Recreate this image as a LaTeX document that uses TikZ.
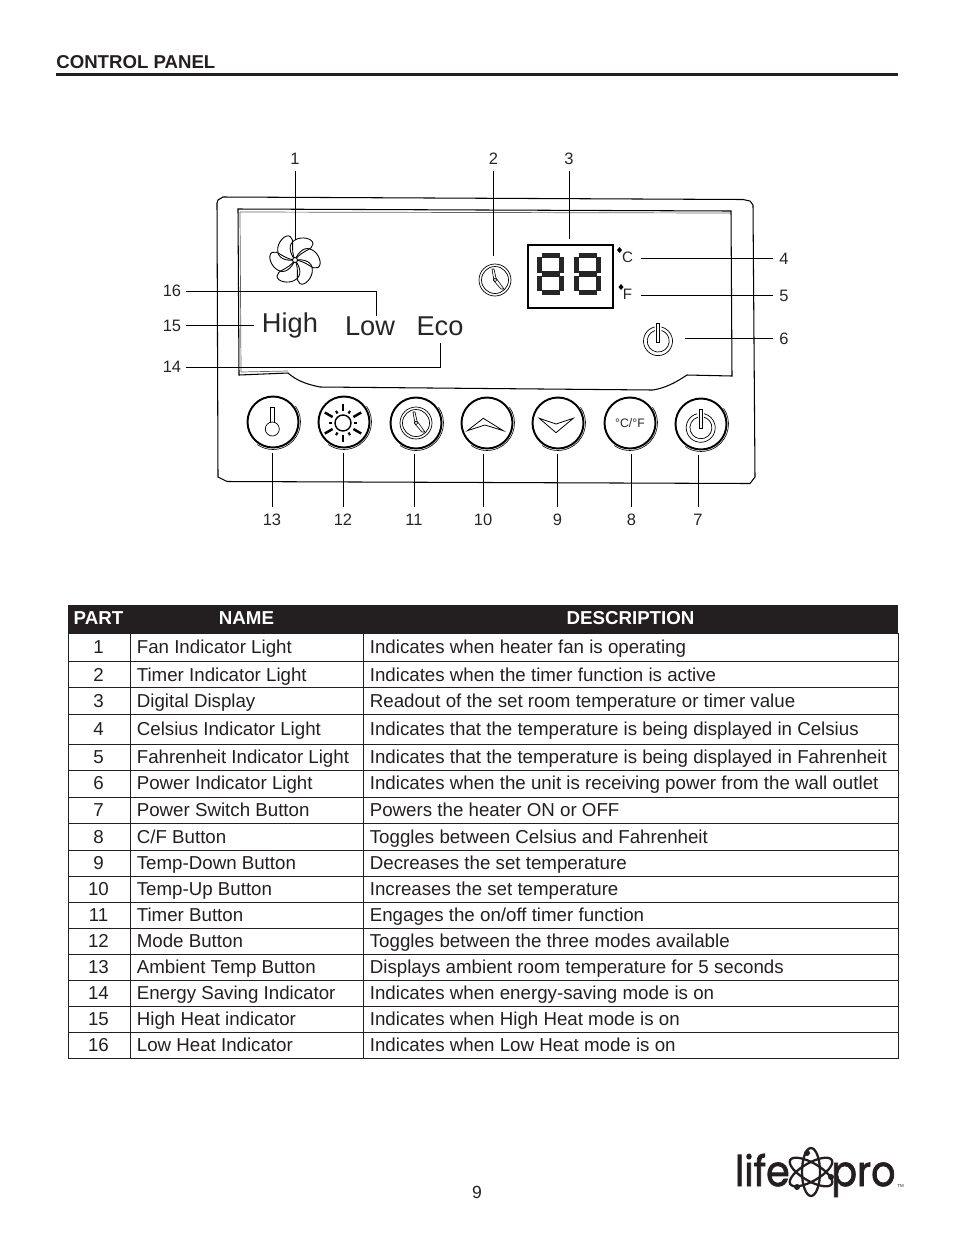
\documentclass[tikz,border=0pt]{standalone}
\usepackage{fontspec}
\usepackage{amsmath,amssymb}
\setmainfont{Liberation Sans}
\newfontfamily\logofont{Poppins}[FakeBold=1.8, FakeStretch=0.9]
\usetikzlibrary{arrows.meta}
\definecolor{inkblack}{HTML}{231F20}
\tikzset{
  numlabel/.style={inner sep=0.13cm, yshift=-0.015cm, font=\fontsize{9.4}{11}\selectfont, text=black!85},
  leader/.style={line width=0.45pt, black},
  panelbtn/.style={circle, draw=black, line width=1.1pt, minimum size=1.02cm,
    inner sep=0pt, outer sep=0.1cm},
  ghosticon/.style={circle, inner sep=0pt, minimum size=#1},
  cell/.style={anchor=base west, inner sep=0pt, font=\fontsize{10.65}{13}\selectfont, text=inkblack},
  headcell/.style={anchor=base, inner sep=0pt, font=\fontsize{10.65}{13}\selectfont\bfseries, text=white},
  lcdword/.style={anchor=base, inner sep=0pt, font=\fontsize{15.5}{18}\selectfont, text=black!85},
  pics/clockface/.style={code={
    \draw[line width=0.4pt] (0,0) circle (16);
    \draw[line width=0.4pt] (0,0) circle (13.5);
    \draw[line width=0.35pt] (-1,1) -- (-3,-11) -- (-1,-11) -- (1,-2) -- (9,9) -- (6,9) -- cycle;
    \draw[line width=0.35pt] (0,0) circle (1.8);
  }},
  pics/powerface/.style={code={
    \draw[line width=0.4pt] (-3.5,-13) arc[start angle=-104, end angle=-436, radius=14.5];
    \draw[line width=0.4pt] (-3,-9.5) arc[start angle=-107, end angle=-433, radius=11];
    \draw[line width=0.4pt] (-1.5,-17) rectangle (1.5,2);
  }},
  pics/lcddigit/.style={code={
    \draw[line width=3pt, black!85, line cap=butt]
      (4.5,2.5) -- (22.5,2.5) (4.5,21) -- (22.5,21) (4.5,39.5) -- (22.5,39.5)
      (2.5,4) -- (2.5,19.5) (24.5,4) -- (24.5,19.5) (2.5,22.5) -- (2.5,38) (24.5,22.5) -- (24.5,38);
  }}
}
\begin{document}
\begin{tikzpicture}[x=0.02cm, y=-0.02cm, >=Stealth]
  \useasboundingbox (0,0) rectangle (954,1235);
  % Page heading
  \node[anchor=base west, inner sep=0pt, font=\fontsize{10.6}{12}\selectfont\bfseries, text=inkblack]
    (heading) at (56,68) {CONTROL PANEL};
  \draw[line width=1.7pt, inkblack] (56,74.5) -- (898,74.5);
  % Panel outline
  \draw[line width=0.6pt] (218,477) -- (217,203) -- (218,200) -- (223,197) -- (743,199.5)
    -- (750,201) -- (753,205) -- (755,477) -- (750,483.5) -- (227,481.5) -- cycle;
  % Window of the display
  \draw[line width=0.6pt] (238,209) -- (731,211) -- (732,376) -- (687,375)
    .. controls (675,383) and (665,388) .. (653,390) -- (320,387)
    .. controls (305,384) and (296,380) .. (288,373) -- (239,375) -- cycle;
  \draw[line width=0.4pt, black!60] (240,212) -- (731,213);
  \draw[line width=0.4pt, black!60] (240,212) -- (241,372) -- (288,371);
  % Fan
  \node[ghosticon=0.8cm] (fan) at (295,260) {};
  \foreach \a in {0,60,...,300}
    \draw[line width=0.5pt, rotate around={\a:(295,260)}] (295,260)
      .. controls (289,252) and (288,244) .. (295,240)
      .. controls (301,236) and (313,238) .. (313,244)
      .. controls (313,250) and (302,250) .. (295,260);
  \draw[line width=0.5pt, fill=white] (295,260) circle (2.5);
  % Clock light
  \node[ghosticon=0.64cm, outer sep=0.16cm] (clocklight) at (495,280) {};
  \pic at (495,280) {clockface};
  % Digital display
  \node[draw=black, line width=0.9pt, minimum width=1.7cm, minimum height=1.26cm, inner sep=0pt,
    outer sep=0.12cm] (display) at (570.5,276.5) {};
  \pic at (537,253) {lcddigit};
  \pic at (574,253) {lcddigit};
  % Celsius and Fahrenheit
  \node[inner sep=0pt, outer xsep=0.16cm, font=\fontsize{8.6}{10}\selectfont, text=black!85]
    (clight) at (627.5,257) {C};
  \node[inner sep=0pt, outer xsep=0.18cm, font=\fontsize{8.6}{10}\selectfont, text=black!85]
    (flight) at (627.5,294) {F};
  \fill (619.5,247) -- (622,250) -- (619.5,253) -- (617,250) -- cycle;
  \fill (621,284) -- (623.5,287) -- (621,290) -- (618.5,287) -- cycle;
  % Power light
  \node[ghosticon=0.6cm, outer sep=0.24cm] (powerlight) at (658,339) {};
  \pic at (658,340) {powerface};
  % Words of the display
  \node[lcdword, outer xsep=0.16cm] (high) at (290,332) {High};
  \node[lcdword] (low) at (370,335) {Low};
  \node[lcdword, outer ysep=0.16cm] (eco) at (440,335) {Eco};
  % Buttons
  \node[panelbtn] (tempbtn) at (273,422) {};
  \node[panelbtn] (modebtn) at (344,422) {};
  \node[panelbtn] (timerbtn) at (416,423) {};
  \node[panelbtn] (upbtn) at (487,423) {};
  \node[panelbtn] (downbtn) at (558,423) {};
  \node[panelbtn, font=\fontsize{7}{8}\selectfont, text=black!85] (cfbtn) at (630,423) {°C/°F};
  \node[panelbtn] (powerbtn) at (701,424) {};
  \foreach \bx/\by in {273/422,344/422,416/423,487/423,558/423,630/423,701/424}
    \draw[line width=0.35pt] (\bx,\by) ++(-35:27.5) arc[start angle=-35, end angle=125, radius=27.5];
  % Button faces
  \draw[line width=0.4pt] (270.5,422.5) -- (270.5,407) -- (274,407) -- (274,422.5);
  \draw[line width=0.4pt] (272.3,429) circle (7);
  \draw[line width=0.8pt] (343,423) circle (8);
  \foreach \a in {90,270}
    \draw[line width=1.5pt] (343,423) ++(\a:12) -- ++(\a:7);
  \foreach \a in {30,150,210,330}
    \draw[line width=1.4pt] (343,423) ++(\a:12) -- ++(\a:9);
  \foreach \a in {0,60,120,180,240,300}
    \draw[line width=1.2pt] (343,423) ++(\a:11) -- ++(\a:3);
  \pic at (416,423) {clockface};
  \draw[line width=0.45pt] (467.3,430.7) -- (483.3,418.3) -- (503.3,430.7) -- (485,425) -- cycle;
  \draw[line width=0.45pt] (539.3,418.3) -- (556,424) -- (573.3,418.3) -- (556,432.7) -- cycle;
  \pic at (700.7,426.7) {powerface};
  % Part numbers
  \node[numlabel] (n1) at (295,158) {1};
  \node[numlabel] (n2) at (493.5,158) {2};
  \node[numlabel] (n3) at (569,158) {3};
  \node[numlabel] (n4) at (784,258) {4};
  \node[numlabel] (n5) at (784,295) {5};
  \node[numlabel] (n6) at (784,338) {6};
  \node[numlabel] (n7) at (698,519) {7};
  \node[numlabel] (n8) at (631.5,519) {8};
  \node[numlabel] (n9) at (557.5,519) {9};
  \node[numlabel] (n10) at (483,519) {10};
  \node[numlabel] (n11) at (414,519) {11};
  \node[numlabel] (n12) at (343,519) {12};
  \node[numlabel] (n13) at (272,519) {13};
  \node[numlabel, inner sep=0.08cm] (n14) at (172,366.5) {14};
  \node[numlabel, inner sep=0.08cm] (n15) at (172,325) {15};
  \node[numlabel, inner sep=0.08cm] (n16) at (172,290.5) {16};
  % Leaders from the numbers
  \draw[leader] (n1.south) -- (n1.south |- fan.north);
  \draw[leader] (n2.south) -- (n2.south |- clocklight.north);
  \draw[leader] (n3.south) -- (n3.south |- display.north);
  \draw[leader] (n4.west) -- (n4.west -| clight.east);
  \draw[leader] (n5.west) -- (n5.west -| flight.east);
  \draw[leader] (n6.west) -- (n6.west -| powerlight.east);
  \foreach \num/\btn in {7/powerbtn,8/cfbtn,9/downbtn,10/upbtn,11/timerbtn,12/modebtn,13/tempbtn}
    \draw[leader] (n\num.north) -- (n\num.north |- \btn.south);
  \draw[leader] (n14.east) -| (eco.south);
  \draw[leader] (n15.east) -- (n15.east -| high.west);
  \draw[leader] (n16.east) -| (low.north -| 376,0);
  % Table
  \fill[inkblack] (68,605) rectangle (898,633);
  \node[headcell] (headpart) at (98.5,624) {PART};
  \node[headcell] (headname) at (246.5,624) {NAME};
  \node[headcell] (headdesc) at (630.5,624) {DESCRIPTION};
  \draw[line width=0.55pt, inkblack] (68,633) rectangle (898,1058.5);
  \draw[line width=0.55pt, inkblack] (130,633) -- (130,1058.5) (363.5,633) -- (363.5,1058.5);
  \foreach \yrule in {661,687.5,714,744,770,797,823.5,850,876,902,928,954,980,1006,1032}
    \draw[line width=0.55pt, inkblack] (68,\yrule) -- (898,\yrule);
  \foreach \part/\ybase/\partname/\partdesc in {
    1/653/Fan Indicator Light/Indicates when heater fan is operating,
    2/681/Timer Indicator Light/Indicates when the timer function is active,
    3/707/Digital Display/Readout of the set room temperature or timer value,
    4/735/Celsius Indicator Light/Indicates that the temperature is being displayed in Celsius,
    5/763/Fahrenheit Indicator Light/Indicates that the temperature is being displayed in Fahrenheit,
    6/789/Power Indicator Light/Indicates when the unit is receiving power from the wall outlet,
    7/816/Power Switch Button/Powers the heater ON or OFF,
    8/843/{C/F Button}/Toggles between Celsius and Fahrenheit,
    9/869/Temp-Down Button/Decreases the set temperature,
    10/895/Temp-Up Button/Increases the set temperature,
    11/921/Timer Button/{Engages the on/off timer function},
    12/947/Mode Button/Toggles between the three modes available,
    13/973/Ambient Temp Button/Displays ambient room temperature for 5 seconds,
    14/999/Energy Saving Indicator/Indicates when energy-saving mode is on,
    15/1025/High Heat indicator/Indicates when High Heat mode is on,
    16/1051/Low Heat Indicator/Indicates when Low Heat mode is on}
  {
    \node[cell, anchor=base] (part\part) at (98.5,\ybase) {\part};
    \node[cell] (name\part) at (136.5,\ybase) {\partname};
    \node[cell] (desc\part) at (369.5,\ybase) {\partdesc};
  }
  % Page number
  \node[inner sep=0pt, font=\fontsize{10}{12}\selectfont, text=inkblack] (pageno) at (477,1192) {9};
  % Logo
  \node[anchor=base east, inner sep=0pt, font=\logofont\fontsize{24}{28}\selectfont, text=inkblack]
    (logolife) at (790,1186) {life};
  \node[anchor=base west, inner sep=0pt, font=\logofont\fontsize{24}{28}\selectfont, text=inkblack]
    (logopro) at (831,1186) {pro};
  \node[anchor=base west, inner sep=0pt, font=\fontsize{2.5}{3}\selectfont, text=inkblack]
    (logotm) at (897,1187) {TM};
  \foreach \a in {30,90,150}
    \draw[line width=1.3pt, inkblack, rotate around={\a:(811,1172)}] (811,1172) ellipse (24 and 9);
  \fill[inkblack] (807,1153) circle (3) (831,1177) circle (3) (797,1187) circle (3);
\end{tikzpicture}
\end{document}
